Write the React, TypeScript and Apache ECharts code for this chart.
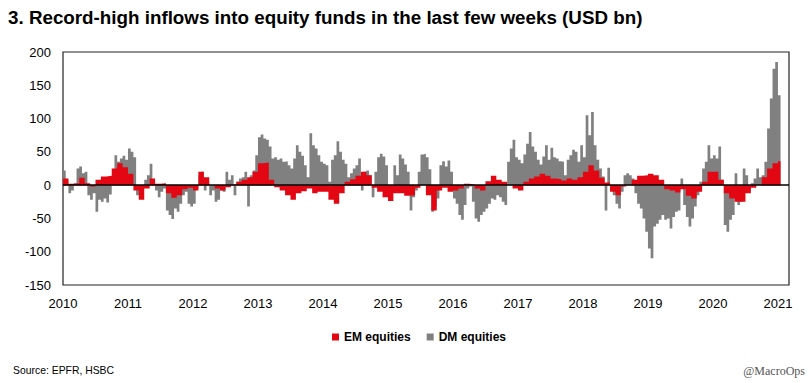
import React, { useEffect, useRef } from 'react';
import * as echarts from 'echarts';

const titleText = '3. Record-high inflows into equity funds in the last few weeks (USD bn)';
const sourceText = 'Source: EPFR, HSBC';
const creditText = '@MacroOps';
const seriesNames = ['EM equities', 'DM equities'];
const yearTicks = [2010, 2011, 2012, 2013, 2014, 2015, 2016, 2017, 2018, 2019, 2020, 2021];
const startYear = 2010;
const lastWeekEnd = 2021.04;

// DM equities, 4-week flows (USD bn), read twice a month
const dm2010 = [22, 8, -12, -8, 3, 25, 28, 18, 20, -15, -22, -12, -40, -22, -25, -20, -26, -14, 5, 45, 35, 40, 44, 38];
const dm2011 = [55, 50, 42, -15, -20, -5, 8, 15, 32, 6, -8, -18, -10, -5, -38, -45, -51, -35, -40, -28, -15, -10, -28, -32];
const dm2012 = [-28, -5, 15, 20, -8, 5, -15, -8, -25, -22, -8, -10, 20, 8, 15, -15, 5, 10, 12, 20, -32, 15, 22, 45];
const dm2013 = [72, 76, 70, 68, 58, 40, 42, 38, 40, 35, 36, 30, 25, 40, 60, 50, 44, 30, 12, 78, 60, 55, 45, 35];
const dm2014 = [32, 30, 5, 38, 45, 66, 50, 38, 32, 12, 18, 25, 30, 40, -8, 20, 22, 15, -18, 20, 42, 47, 43, 30];
const dm2015 = [-12, -10, 30, 15, 46, 40, 31, 20, -38, -18, -8, 20, 46, 47, 42, 24, -40, -32, -20, 30, 36, 28, 37, 20];
const dm2016 = [-20, -28, -45, -52, -30, -5, -2, -25, -50, -55, -45, -40, -35, -28, -20, -22, -15, -18, -25, -30, 35, 55, 68, 42];
const dm2017 = [38, 33, 46, 62, 80, 58, 50, 38, 31, 43, 60, 38, 56, 42, 40, 36, 35, 15, 38, 45, 53, 50, 35, 60];
const dm2018 = [42, 105, 75, 110, 60, 38, 25, 13, -38, 26, -8, -15, -28, -35, -10, 15, 18, 15, 10, -12, -28, -35, -50, -70];
const dm2019 = [-95, -110, -62, -58, -52, -45, -52, -50, -65, -48, -40, -38, 10, -30, -48, -62, -50, -32, -15, 5, 25, 35, 60, 40];
const dm2020 = [45, 40, 58, 8, -60, -70, -52, -45, 18, -30, -25, 25, 15, -8, 3, 10, 25, 12, 15, 35, 85, 130, 175, 185];
const dm2021 = [135];

// EM equities, read once a month
const em2010 = [10, 2, 3, 11, 3, -2, 8, 13, 14, 25, 33, 27];
const em2011 = [17, -8, -22, -5, 10, 2, 3, -12, -19, -15, -6, -4];
const em2012 = [-8, 20, 12, 0, -5, -8, -3, 1, 5, 8, 12, 20];
const em2013 = [33, 34, 8, -3, -8, -15, -22, -12, -9, -5, -12, -10];
const em2014 = [-10, -22, -28, -12, 5, 9, 14, 20, 15, -4, -10, -18];
const em2015 = [-24, -12, -12, -16, -15, -4, 0, -15, -38, -8, -4, -10];
const em2016 = [-8, -5, 2, 1, -5, -8, 6, 14, 8, 5, 0, -5];
const em2017 = [-8, 5, 10, 13, 17, 14, 10, 9, 7, 10, 8, 12];
const em2018 = [20, 30, 22, 11, 4, -10, -15, -2, 0, 8, 14, 15];
const em2019 = [17, 15, 8, -6, -8, -11, -6, -16, -20, -10, 5, 20];
const em2020 = [20, 8, -12, -20, -25, -25, -12, -4, 0, 12, 25, 33];
const em2021 = [36];

const dmEquities = [...dm2010, ...dm2011, ...dm2012, ...dm2013, ...dm2014, ...dm2015, ...dm2016, ...dm2017, ...dm2018, ...dm2019, ...dm2020, ...dm2021];
const emEquities = [...em2010, ...em2011, ...em2012, ...em2013, ...em2014, ...em2015, ...em2016, ...em2017, ...em2018, ...em2019, ...em2020, ...em2021];

const SANS = '"Liberation Sans", Arial, Helvetica, sans-serif';
const RED = '#e30613';
const GRAY = '#808080';

function toPoints(values: number[], perYear: number): [number, number][] {
  const pts: [number, number][] = values.map((v, i) => [startYear + i / perYear, v]);
  pts.push([lastWeekEnd, values[values.length - 1]]);
  return pts;
}

export default function App() {
  const ref = useRef<HTMLDivElement>(null);
  useEffect(() => {
    if (!ref.current) return;
    const chart = echarts.init(ref.current, undefined, { renderer: 'svg' });
    chart.setOption({
      animation: false,
      backgroundColor: '#ffffff',
      title: {
        text: titleText,
        left: 8,
        top: 8,
        padding: 0,
        textStyle: { fontFamily: SANS, fontSize: 18.8, fontWeight: 'bold', color: '#000' },
      },
      legend: {
        data: seriesNames,
        left: 332,
        top: 331,
        padding: 0,
        icon: 'rect',
        itemWidth: 7,
        itemHeight: 7,
        itemGap: 16,
        textStyle: { fontFamily: SANS, fontSize: 12, fontWeight: 'bold', color: '#000' },
      },
      grid: {
        left: 63,
        right: 21,
        top: 52,
        bottom: 98,
        show: true,
        borderColor: '#222',
        borderWidth: 1.2,
        containLabel: false,
      },
      xAxis: {
        type: 'value',
        min: 2010,
        max: 2021.17,
        interval: 1,
        axisLine: { show: false },
        axisTick: { show: false },
        splitLine: { show: false },
        axisLabel: {
          showMaxLabel: false,
          margin: 12,
          color: '#000',
          fontFamily: SANS,
          fontSize: 13,
          formatter: (v: number) => (yearTicks.includes(Math.round(v * 1000) / 1000) ? String(Math.round(v)) : ''),
        },
      },
      yAxis: {
        type: 'value',
        min: -150,
        max: 200,
        interval: 50,
        axisLine: { show: false },
        axisTick: { show: false },
        splitLine: { show: false },
        axisLabel: { margin: 12, color: '#000', fontFamily: SANS, fontSize: 13 },
      },
      graphic: [
        {
          type: 'text',
          left: 13,
          top: 365,
          style: { text: sourceText, fontFamily: SANS, fontSize: 10.4, fill: '#000' },
        },
        {
          type: 'text',
          right: 5,
          top: 365,
          style: { text: creditText, fontFamily: '"Liberation Serif", "Times New Roman", serif', fontSize: 12, fill: '#555' },
        },
      ],
      series: [
        {
          name: 'DM equities',
          type: 'line',
          step: 'end',
          data: toPoints(dmEquities, 24),
          showSymbol: false,
          symbol: 'none',
          lineStyle: { width: 0, color: GRAY },
          itemStyle: { color: GRAY },
          areaStyle: { color: GRAY, opacity: 1 },
          z: 2,
        },
        {
          name: 'EM equities',
          type: 'line',
          step: 'end',
          data: toPoints(emEquities, 12),
          showSymbol: false,
          symbol: 'none',
          lineStyle: { width: 0, color: RED },
          itemStyle: { color: RED },
          areaStyle: { color: RED, opacity: 1 },
          z: 3,
          markLine: {
            silent: true,
            symbol: 'none',
            label: { show: false },
            lineStyle: { color: '#000', width: 1.5, type: 'solid' },
            data: [{ yAxis: 0 }],
          },
        },
      ],
    });
    return () => chart.dispose();
  }, []);
  return <div ref={ref} style={{ position: 'absolute', left: 0, top: 0, width: 810, height: 383 }} />;
}
